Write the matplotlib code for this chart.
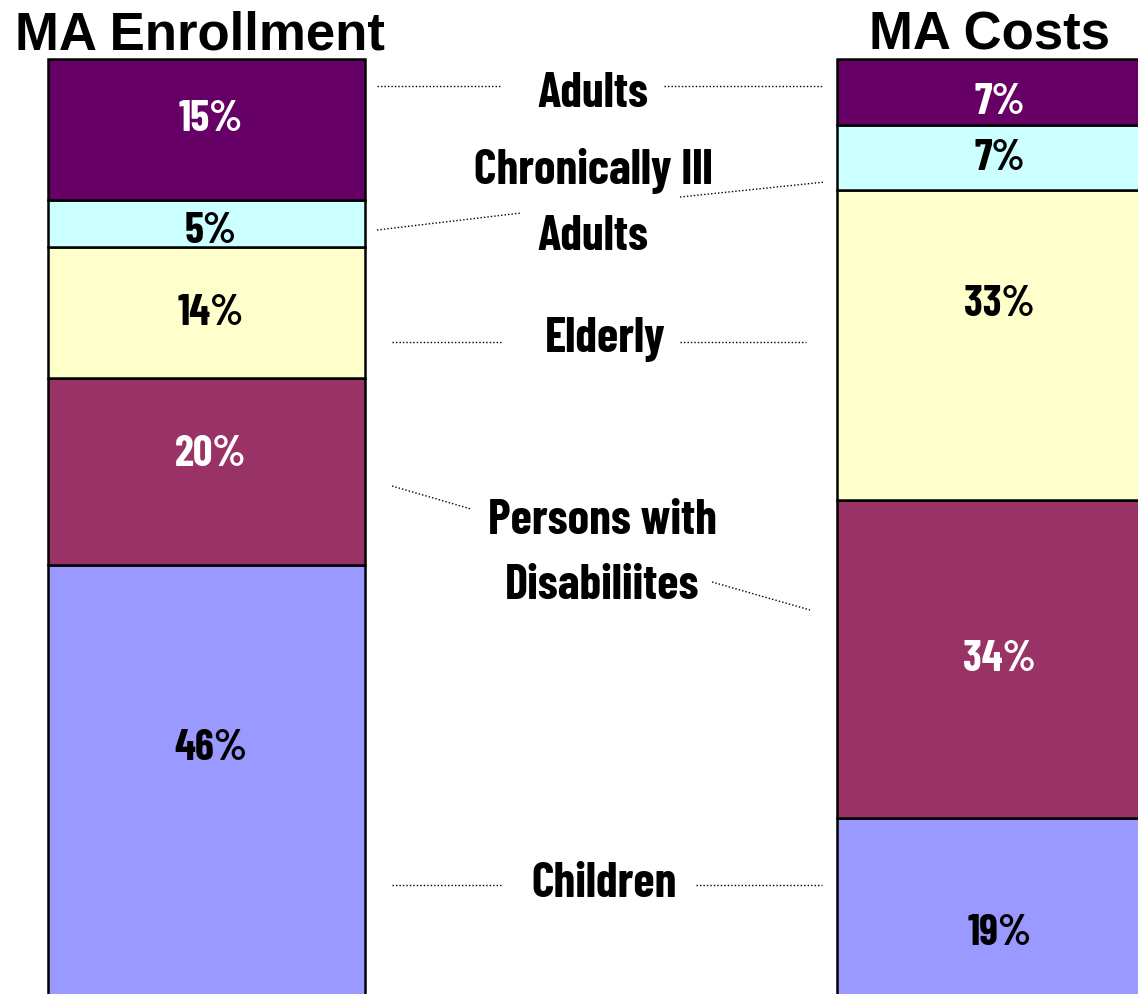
import matplotlib
matplotlib.use("Agg")
import matplotlib.pyplot as plt

# ---- data ----
groups = ["MA Enrollment", "MA Costs"]
categories = ["Children", "Persons with\nDisabiliites", "Elderly", "Chronically Ill\nAdults", "Adults"]
enrollment = [46, 20, 14, 5, 15]
costs = [19, 34, 33, 7, 7]
colors = ["#9999FF", "#993366", "#FFFFCC", "#CCFFFF", "#660066"]
text_colors = ["black", "white", "black", "black", "white"]
# small vertical nudges of the value labels (in % units), as placed in the original slide
enroll_label_shift = [3.6, 1.9, 0.0, -0.75, 1.2]
cost_label_shift = [-2.7, 0.0, 4.4, 0.0, -1.0]

NARROW = ["Liberation Sans Narrow", "Barlow Condensed", "DejaVu Sans"]
WIDE = ["Liberation Sans", "Arimo", "DejaVu Sans"]

W, H = 1138, 995
fig = plt.figure(figsize=(W / 100, H / 100), dpi=100)
ax = fig.add_axes([0, 0, 1, 1])

px_per_unit = 9.35
gap = 789.0
bar_w = 317 / gap
x0_px = 206.5
ax.set_xlim(-x0_px / gap, (W - x0_px) / gap)
ax.set_ylim(0.25, H / px_per_unit)
ax.axis("off")

series = [enrollment, costs]
shifts = [enroll_label_shift, cost_label_shift]
for i, vals in enumerate(series):
    bottom = 0
    for j, v in enumerate(vals):
        ax.bar(i, v, bottom=bottom, width=bar_w, color=colors[j], edgecolor="black",
               linewidth=1.8, zorder=2)
        ax.text(i + 0.005, bottom + v / 2 + shifts[i][j], f"{v}%", ha="center", va="center",
                fontsize=31, fontweight="bold", family=NARROW,
                color=text_colors[j], zorder=3)
        bottom += v
    ax.text(i - 0.008, 100 + 2.6, groups[i], ha="center", va="center", fontsize=38,
            fontweight="bold", family=WIDE, color="black")

def fx(px):
    return px / W

def fy(py):
    return 1 - py / H

cat_pos = {"Adults": (593, 94), "Chronically Ill\nAdults": (593, 203), "Elderly": (605, 339),
           "Persons with\nDisabiliites": (602, 554), "Children": (604, 884)}
for c in categories:
    x, y = cat_pos[c]
    ax.text(fx(x), fy(y), c, transform=ax.transAxes, ha="center", va="center",
            fontsize=35, fontweight="bold", family=NARROW, linespacing=1.6)

leaders = [
    ((377, 87), (502, 87)), ((664, 87), (822, 87)),
    ((377, 231), (521, 214)), ((680, 198), (825, 183)),
    ((392, 343), (502, 343)), ((680, 343), (806, 343)),
    ((392, 487), (471, 510)), ((712, 583), (810, 611)),
    ((392, 886), (502, 886)), ((696, 886), (822, 886)),
]
for (xa, ya), (xb, yb) in leaders:
    ax.plot([fx(xa), fx(xb)], [fy(ya), fy(yb)], transform=ax.transAxes, color="black",
            linestyle=(0, (1, 1.5)), linewidth=1.0)

fig.savefig("out.png", dpi=100)
